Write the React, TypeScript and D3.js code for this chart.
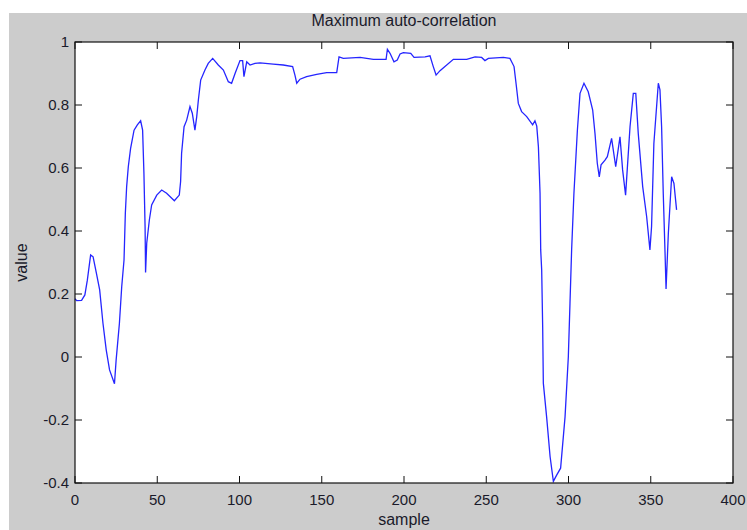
import React from "react";
import * as d3 from "d3";

// sample index / value pairs
const SAMPLES = [
  0, 1, 4, 6, 7.5, 9.5, 11, 13, 15, 17, 19, 21, 24, 25, 27, 28.4, 29.8, 30.6, 31.4, 32.4,
  33.8, 35.9, 37.9, 39.9, 41.1, 41.9, 42.6, 42.9, 43.6, 45.2, 46.6, 49.7, 52.7, 55.7, 60.4, 63.4,
  64.2, 64.8, 66.3, 67.9, 69.9, 71.3, 72.9, 74, 75, 76.4, 79, 81, 83.7, 87.1, 90.2, 93.2,
  95.2, 97.3, 100.3, 101.9, 102.7, 104.4, 106.4, 109.4, 112.5, 120.5, 126.6, 132.3, 133.7, 134.8, 136.8, 140.8,
  146.9, 153, 159.1, 160.5, 163.1, 173.3, 181.4, 189.1, 189.9, 191.5, 193.9, 195.9, 197.6, 199.6, 204.1, 206.1,
  212.8, 215.8, 217.8, 219.5, 221.9, 224.9, 230, 238.1, 243.2, 247.2, 249.2, 251.3, 260.4, 264.4, 266.9, 268.1,
  269.5, 271.5, 274.6, 278.2, 279.6, 280.7, 281.7, 282.7, 283.1, 283.7, 284.3, 284.7, 286.7, 288.8, 290.8, 292.8,
  295.2, 297.9, 299.9, 300.9, 301.9, 303.3, 305.4, 307, 309.4, 312, 314.7, 316.1, 317.5, 318.7, 319.8, 322.2,
  323.6, 326.2, 328.7, 331.3, 332.9, 334.7, 337.4, 339.4, 340.9, 342.4, 345.1, 347.5, 349.5, 350.5, 351.9, 354.6,
  355.6, 356.6, 357.6, 358.7, 359.3, 360.7, 362.7, 364.1, 365.7,
];
const VALUES = [
  0.185, 0.179, 0.18, 0.197, 0.244, 0.324, 0.318, 0.266, 0.213, 0.107, 0.022, -0.041, -0.085, -0.01, 0.107, 0.223, 0.308, 0.456, 0.541, 0.604,
  0.662, 0.72, 0.737, 0.75, 0.72, 0.583, 0.414, 0.268, 0.361, 0.435, 0.483, 0.514, 0.53, 0.52, 0.496, 0.514,
  0.557, 0.647, 0.731, 0.752, 0.795, 0.774, 0.72, 0.763, 0.816, 0.879, 0.911, 0.932, 0.948, 0.927, 0.911, 0.874,
  0.869, 0.9, 0.941, 0.941, 0.89, 0.937, 0.927, 0.932, 0.934, 0.93, 0.927, 0.922, 0.895, 0.869, 0.882, 0.89,
  0.897, 0.903, 0.903, 0.953, 0.948, 0.951, 0.945, 0.945, 0.977, 0.964, 0.937, 0.943, 0.962, 0.966, 0.964, 0.951,
  0.953, 0.956, 0.922, 0.895, 0.909, 0.922, 0.945, 0.945, 0.953, 0.951, 0.941, 0.948, 0.951, 0.948, 0.922, 0.869,
  0.805, 0.779, 0.763, 0.737, 0.75, 0.733, 0.668, 0.52, 0.34, 0.276, 0.096, -0.083, -0.19, -0.316, -0.395, -0.375,
  -0.353, -0.19, 0.001, 0.17, 0.34, 0.52, 0.72, 0.837, 0.869, 0.842, 0.784, 0.71, 0.615, 0.572, 0.61, 0.625,
  0.636, 0.694, 0.604, 0.699, 0.594, 0.514, 0.731, 0.837, 0.837, 0.71, 0.541, 0.446, 0.34, 0.414, 0.678, 0.869,
  0.848, 0.731, 0.52, 0.329, 0.216, 0.393, 0.572, 0.551, 0.467,
];

const X_TICKS = [0, 50, 100, 150, 200, 250, 300, 350, 400];
const Y_TICKS = [1, 0.8, 0.6, 0.4, 0.2, 0, -0.2, -0.4];

const W = 747;
const H = 530;
const L = 75, R = 733, T = 42, B = 483;
const TICK = 7;
const FONT = "'Liberation Sans', Arial, sans-serif";
const TXT = "#1a1a2a";

export default function App() {
  const x = d3.scaleLinear().domain([0, 400]).range([L, R]);
  const y = d3.scaleLinear().domain([-0.4, 1]).range([B, T]);

  const pts: [number, number][] = SAMPLES.map((s, i) => [s, VALUES[i]]);
  const line = d3
    .line<[number, number]>()
    .x((d) => x(d[0]))
    .y((d) => y(d[1]));

  // MATLAB style labels with a plain hyphen for negatives
  const fmt = (v: number) => String(+v.toFixed(1));

  return (
    <svg
      width={W}
      height={H}
      style={{ position: "absolute", left: 0, top: 0, display: "block" }}
    >
      <rect x={0} y={0} width={W} height={H} fill="#fff" />
      <rect x={9} y={13} width={W - 9} height={H - 13} fill="#cccccc" />
      <rect x={L} y={T} width={R - L} height={B - T} fill="#fff" />

      <path d={line(pts) ?? ""} fill="none" stroke="#2525ff" strokeWidth={1.3} />

      <rect x={L} y={T} width={R - L} height={B - T} fill="none" stroke="#111" strokeWidth={1.2} />

      {X_TICKS.map((t) => (
        <g key={"x" + t}>
          <line x1={x(t)} x2={x(t)} y1={B} y2={B - TICK} stroke="#111" />
          <line x1={x(t)} x2={x(t)} y1={T} y2={T + TICK} stroke="#111" />
          <text
            x={x(t)}
            y={B + 22}
            textAnchor="middle"
            fontFamily={FONT}
            fontSize={15}
            fill={TXT}
          >
            {t}
          </text>
        </g>
      ))}

      {Y_TICKS.map((t) => (
        <g key={"y" + t}>
          <line x1={L} x2={L + TICK} y1={y(t)} y2={y(t)} stroke="#111" />
          <line x1={R} x2={R - TICK} y1={y(t)} y2={y(t)} stroke="#111" />
          <text
            x={L - 6}
            y={y(t) + 5}
            textAnchor="end"
            fontFamily={FONT}
            fontSize={15}
            fill={TXT}
          >
            {fmt(t)}
          </text>
        </g>
      ))}

      <text
        x={(L + R) / 2}
        y={26}
        textAnchor="middle"
        fontFamily={FONT}
        fontSize={16}
        fill={TXT}
      >
        Maximum auto-correlation
      </text>
      <text
        x={(L + R) / 2}
        y={525}
        textAnchor="middle"
        fontFamily={FONT}
        fontSize={16}
        fill={TXT}
      >
        sample
      </text>
      <text
        transform={`translate(27,${(T + B) / 2}) rotate(-90)`}
        textAnchor="middle"
        fontFamily={FONT}
        fontSize={16}
        fill={TXT}
      >
        value
      </text>
    </svg>
  );
}
